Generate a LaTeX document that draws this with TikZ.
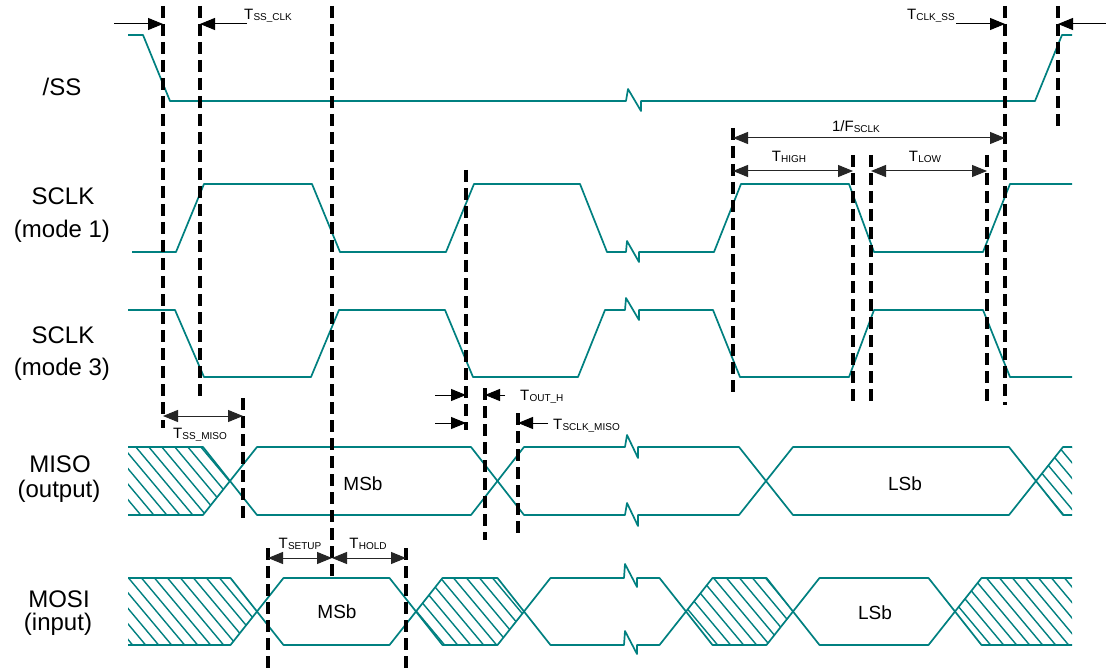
\documentclass[tikz,border=0pt]{standalone}
\usepackage{fontspec}
\setmainfont{Liberation Sans}
\usetikzlibrary{arrows.meta}
\definecolor{sig}{RGB}{0,128,128}
\newcommand\Tl[1]{T\kern0.2pt\raisebox{-1pt}{\fontsize{10}{12}\selectfont #1}}
\tikzset{
  sigline/.style={draw=sig, line width=1.7pt, line join=round},
  hatchl/.style={draw=sig, line width=1.4pt},
  vdash/.style={draw=black, line width=3.6pt, dash pattern=on 12pt off 6pt},
  tarr/.style={draw=black, line width=1pt, -{Triangle[length=15pt,width=12pt]}},
  darr/.style={draw=black!85, line width=1pt, {Triangle[length=15pt,width=12pt]}-{Triangle[length=15pt,width=12pt]}},
  lbl/.style={font=\fontsize{24}{28}\selectfont, anchor=base, inner sep=0pt},
  tl/.style={font=\fontsize{15}{18}\selectfont, inner sep=0pt, anchor=base},
  dat/.style={font=\fontsize{19}{22}\selectfont, anchor=base, inner sep=0pt},
}
\newcommand\hatchregion[1]{%
  \begin{scope}
    \clip #1;
    \foreach \k in {-6,...,86} \draw[hatchl] ({\k*13},440) -- ++(180,215);
  \end{scope}}
\begin{document}
\begin{tikzpicture}[x=1pt,y=-1pt]
\useasboundingbox[fill=white] (0,0) rectangle (1106,671);

% ---- left labels
\node[lbl] (lss) at (62,96) {/SS};
\node[lbl] (lck1a) at (63,205) {SCLK};
\node[lbl] (lck1b) at (62,237.5) {(mode 1)};
\node[lbl] (lck3a) at (63,343) {SCLK};
\node[lbl] (lck3b) at (62,375.5) {(mode 3)};
\node[lbl] (lmisoa) at (60,472) {MISO};
\node[lbl] (lmisob) at (59,497.5) {(output)};
\node[lbl] (lmosia) at (59,607) {MOSI};
\node[lbl] (lmosib) at (58,630.5) {(input)};

% ---- /SS
\draw[sigline] (128,35) -- (143,35) -- (170,101) -- (626,101) -- (628,89) -- (641,111) -- (641,101)
  -- (1035,101) -- (1062,35) -- (1072,35);

% ---- SCLK mode 1
\draw[sigline] (132,252) -- (176,252) -- (204,184) -- (312,184) -- (340,252) -- (446,252) -- (474,184)
  -- (580,184) -- (607,252) -- (626,252) -- (627,241) -- (639,262) -- (639,252) -- (714,252)
  -- (741,184) -- (849,184) -- (874,252) -- (983,252) -- (1010,184) -- (1072,184);

% ---- SCLK mode 3
\draw[sigline] (128,310) -- (175,310) -- (204,377) -- (311,377) -- (339,310) -- (445,310) -- (473,377)
  -- (578,377) -- (605,310) -- (625,310) -- (626,298) -- (639,320) -- (639,310) -- (713,310)
  -- (740,377) -- (849,377) -- (874,310) -- (983,310) -- (1010,377) -- (1072,377);

% ---- MISO hatch
\hatchregion{(128,447) -- (203,447) -- (230,481) -- (203,515) -- (128,515) -- cycle}
\hatchregion{(1036,481) -- (1063,447) -- (1072,447) -- (1072,515) -- (1063,515) -- cycle}
% ---- MISO lines
\draw[sigline] (128,447) -- (203,447) -- (257,515) -- (471,515) -- (524,447) -- (625,447)
  -- (627,435) -- (638,458) -- (638,447) -- (739,447) -- (793,515) -- (1009,515) -- (1063,447) -- (1072,447);
\draw[sigline] (128,515) -- (203,515) -- (257,447) -- (471,447) -- (524,515) -- (625,515)
  -- (627,503) -- (638,526) -- (638,515) -- (739,515) -- (793,447) -- (1009,447) -- (1063,515) -- (1072,515);

% ---- MOSI hatch
\hatchregion{(128,578) -- (230.5,578) -- (257,611.5) -- (230.5,645) -- (128,645) -- cycle}
\hatchregion{(416,611.5) -- (442.5,578) -- (497.5,578) -- (524,611.5) -- (497.5,645) -- (442.5,645) -- cycle}
\hatchregion{(686,611.5) -- (712.5,578) -- (766.5,578) -- (793,611.5) -- (766.5,645) -- (712.5,645) -- cycle}
\hatchregion{(955,611.5) -- (981.5,578) -- (1072,578) -- (1072,645) -- (981.5,645) -- cycle}
% ---- MOSI lines
\draw[sigline] (128,578) -- (230.5,578) -- (283.5,645) -- (389.5,645) -- (442.5,578) -- (497.5,578)
  -- (550.5,645) -- (624,645) -- (625,631) -- (637,654) -- (637,645) -- (659.5,645) -- (712.5,578)
  -- (766.5,578) -- (819.5,645) -- (928.5,645) -- (981.5,578) -- (1072,578);
\draw[sigline] (128,645) -- (230.5,645) -- (283.5,578) -- (389.5,578) -- (442.5,645) -- (497.5,645)
  -- (550.5,578) -- (624,578) -- (625,564) -- (637,587) -- (637,578) -- (659.5,578) -- (712.5,645)
  -- (766.5,645) -- (819.5,578) -- (928.5,578) -- (981.5,645) -- (1072,645);

% ---- data labels
\node[dat] (misomsb) at (363,490) {MSb};
\node[dat] (misolsb) at (905,490) {LSb};
\node[dat] (mosimsb) at (337,618) {MSb};
\node[dat] (mosilsb) at (875,619) {LSb};

% ---- dashed timing markers
\foreach \x/\a/\b in {163/6/428, 200/6/400, 332/6/580, 243/398/520, 466/170/430, 485/388/540,
  518/413/535, 733/128/395, 853/155/405, 871/155/405, 987/155/405, 1005/6/405, 1058/6/127,
  268/548/671, 406/548/671}
  \draw[vdash] (\x,\a) -- (\x,\b);

% ---- arrows
\draw[tarr] (114,24) -- (163,24);
\draw[tarr] (247,24) -- (200,24);
\draw[tarr] (956,24) -- (1005,24);
\draw[tarr] (1106,24) -- (1058,24);
\draw[darr] (733,138) -- (1005,138);
\draw[darr] (733,171) -- (853,171);
\draw[darr] (871,171) -- (987,171);
\draw[darr] (163,416) -- (243,416);
\draw[tarr] (435,395) -- (466,395);
\draw[tarr] (505,395) -- (485,395);
\draw[tarr] (435,423) -- (466,423);
\draw[tarr] (548,423) -- (518,423);
\draw[darr] (268,558) -- (332,558);
\draw[darr] (332,558) -- (406,558);

% ---- timing labels
\node[tl, anchor=base west] (tssclk) at (244,20) {\Tl{SS\_CLK}};
\node[tl, anchor=base east] (tclkss) at (955,20) {\Tl{CLK\_SS}};
\node[tl] (fsclk) at (856,132) {1/F\raisebox{-1pt}{\fontsize{10}{12}\selectfont SCLK}};
\node[tl] (thigh) at (789,162) {\Tl{HIGH}};
\node[tl] (tlow) at (925,162) {\Tl{LOW}};
\node[tl] (tssmiso) at (200,438) {\Tl{SS\_MISO}};
\node[tl, anchor=base west] (touth) at (520,400) {\Tl{OUT\_H}};
\node[tl, anchor=base west] (tsclkmiso) at (553,429) {\Tl{SCLK\_MISO}};
\node[tl] (tsetup) at (300,548) {\Tl{SETUP}};
\node[tl] (thold) at (368,548) {\Tl{HOLD}};
\end{tikzpicture}
\end{document}
